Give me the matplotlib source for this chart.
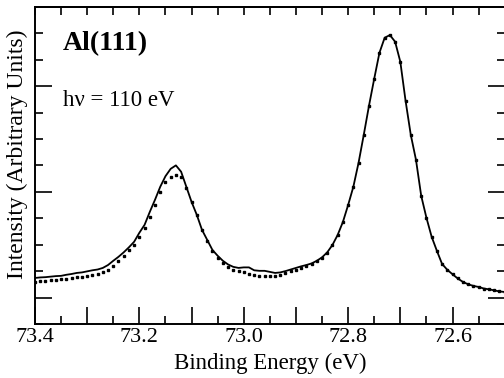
"""Al(111) 2p core-level photoemission spectrum: fit (line) over measured points (dots)."""
import matplotlib
matplotlib.use("Agg")
import matplotlib.pyplot as plt
from matplotlib.ticker import FixedLocator, FixedFormatter, MultipleLocator

plt.rcParams["font.family"] = ["Liberation Serif", "DejaVu Serif"]

energy = [73.40, 73.39, 73.38, 73.37, 73.36, 73.35, 73.34, 73.33, 73.32, 73.31,
          73.30, 73.29, 73.28, 73.27, 73.26, 73.25, 73.24, 73.23, 73.22, 73.21,
          73.20, 73.19, 73.18, 73.17, 73.16, 73.15, 73.14, 73.13, 73.12, 73.11,
          73.10, 73.09, 73.08, 73.07, 73.06, 73.05, 73.04, 73.03, 73.02, 73.01,
          73.00, 72.99, 72.98, 72.97, 72.96, 72.95, 72.94, 72.93, 72.92, 72.91,
          72.90, 72.89, 72.88, 72.87, 72.86, 72.85, 72.84, 72.83, 72.82, 72.81,
          72.80, 72.79, 72.78, 72.77, 72.76, 72.75, 72.74, 72.73, 72.72, 72.71,
          72.70, 72.69, 72.68, 72.67, 72.66, 72.65, 72.64, 72.63, 72.62, 72.61,
          72.60, 72.59, 72.58, 72.57, 72.56, 72.55, 72.54, 72.53, 72.52, 72.51,
          72.50]

# fitted curve (solid line), arbitrary units
fit = [1.74, 1.76, 1.77, 1.79, 1.81, 1.82, 1.86, 1.89, 1.93, 1.95,
       1.99, 2.03, 2.06, 2.12, 2.23, 2.39, 2.54, 2.71, 2.90, 3.11,
       3.45, 3.75, 4.24, 4.70, 5.19, 5.59, 5.87, 6.00, 5.76, 5.19,
       4.62, 4.13, 3.56, 3.18, 2.80, 2.58, 2.39, 2.25, 2.16, 2.12,
       2.14, 2.14, 2.03, 2.01, 2.01, 1.97, 1.93, 1.95, 2.00, 2.06,
       2.12, 2.18, 2.23, 2.29, 2.39, 2.52, 2.71, 2.99, 3.37, 3.86,
       4.50, 5.19, 6.10, 7.16, 8.26, 9.28, 10.26, 10.83, 10.93, 10.68,
       9.92, 8.45, 7.16, 6.21, 4.85, 4.02, 3.30, 2.77, 2.27, 2.05,
       1.88, 1.72, 1.59, 1.50, 1.44, 1.40, 1.34, 1.31, 1.27, 1.23,
       1.21]

# measured data (dots), arbitrary units
data = [1.59, 1.61, 1.63, 1.65, 1.67, 1.69, 1.70, 1.74, 1.76, 1.78,
        1.82, 1.86, 1.89, 1.97, 2.06, 2.20, 2.39, 2.58, 2.78, 2.99,
        3.30, 3.64, 4.05, 4.51, 5.00, 5.38, 5.57, 5.64, 5.57, 5.15,
        4.62, 4.13, 3.56, 3.14, 2.77, 2.50, 2.31, 2.16, 2.06, 2.01,
        1.95, 1.89, 1.86, 1.82, 1.80, 1.80, 1.82, 1.86, 1.93, 1.99,
        2.05, 2.12, 2.20, 2.27, 2.37, 2.50, 2.69, 2.97, 3.35, 3.86,
        4.50, 5.19, 6.10, 7.16, 8.26, 9.28, 10.26, 10.83, 10.93, 10.68,
        9.92, 8.45, 7.16, 6.21, 4.85, 4.02, 3.30, 2.77, 2.27, 2.05,
        1.88, 1.72, 1.59, 1.50, 1.44, 1.40, 1.34, 1.31, 1.27, 1.23,
        1.21]

x_major = [73.4, 73.3, 73.2, 73.1, 73.0, 72.9, 72.8, 72.7, 72.6, 72.5]
x_labels = ["73.4", "", "73.2", "", "73.0", "", "72.8", "", "72.6", ""]
x_minor = [73.35, 73.25, 73.15, 73.05, 72.95, 72.85, 72.75, 72.65, 72.55]
y_major = [1, 5, 9]


def main():
    fig = plt.figure(figsize=(5.04, 3.78), dpi=100)
    ax = fig.add_axes([0.0694, 0.143, 0.932, 0.839])

    ax.plot(energy, fit, color="black", lw=1.3)
    ax.plot(energy, data, linestyle="none", marker="s", ms=1.6, color="black")

    ax.set_xlim(73.4, 72.5)
    ax.set_ylim(0, 12)

    ax.xaxis.set_major_locator(FixedLocator(x_major))
    ax.xaxis.set_major_formatter(FixedFormatter(x_labels))
    ax.xaxis.set_minor_locator(FixedLocator(x_minor))
    ax.yaxis.set_major_locator(FixedLocator(y_major))
    ax.yaxis.set_minor_locator(MultipleLocator(1))
    ax.set_yticklabels([])

    ax.tick_params(which="both", direction="in", width=1.2, labelsize=16,
                   top=False, right=True, pad=3)
    ax.tick_params(which="major", length=12)
    ax.tick_params(which="minor", length=6)

    # top axis carries short ticks every 0.05 eV
    top = ax.secondary_xaxis("top")
    top.set_xticks(x_major + x_minor)
    top.tick_params(direction="in", length=6, width=1.2, labeltop=False)

    for s in ax.spines.values():
        s.set_linewidth(1.4)
    top.spines["top"].set_linewidth(1.4)

    ax.set_xlabel("Binding Energy (eV)", fontsize=16.5, labelpad=4)
    ax.set_ylabel("Intensity (Arbitrary Units)", fontsize=17)
    ax.yaxis.set_label_coords(-0.014, 0.535)

    ax.text(0.06, 0.885, "Al(111)", transform=ax.transAxes, fontsize=20,
            fontweight="bold", va="center")
    ax.text(0.06, 0.705, "h\u03bd = 110 eV", transform=ax.transAxes,
            fontsize=16.5, va="center")

    fig.savefig("out.png", dpi=100)


if __name__ == "__main__":
    main()
